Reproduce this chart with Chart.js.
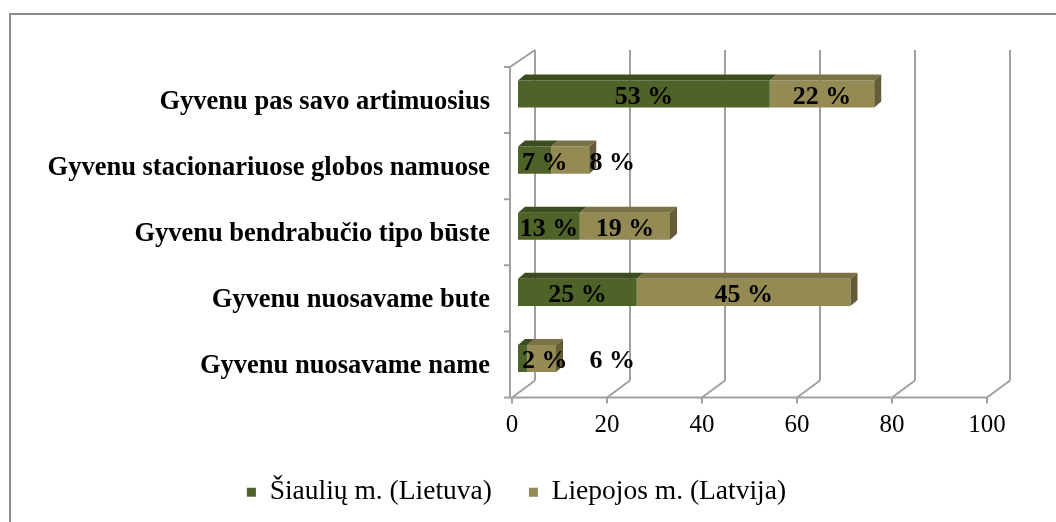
<!DOCTYPE html>
<html>
<head>
<meta charset="utf-8">
<script src="https://cdn.jsdelivr.net/npm/chart.js@4"></script>
<style>
html,body{margin:0;padding:0;background:#fff;}
#wrap{width:1056px;height:522px;position:relative;}
</style>
</head>
<body>
<div id="wrap"><canvas id="c" width="1056" height="522"></canvas></div>
<script>
const categories = [
  "Gyvenu pas savo artimuosius",
  "Gyvenu stacionariuose globos namuose",
  "Gyvenu bendrabučio tipo būste",
  "Gyvenu nuosavame bute",
  "Gyvenu nuosavame name"
];
const seriesNames = ["Šiaulių m. (Lietuva)", "Liepojos m. (Latvija)"];
const siauliai = [53, 7, 13, 25, 2];
const liepoja = [22, 8, 19, 45, 6];
const xTicks = [0, 20, 40, 60, 80, 100];

const SERIF = "'Liberation Serif', 'Times New Roman', serif";
const FRONT = ["#4F6228", "#948A54"];
const TOP = ["#3E4D1F", "#7A7244"];
const SIDE = ["#3A471C", "#635C36"];
const DEPTH = {dx: 23, dy: -17};
const BAR_SHIFT = {dx: 6, dy: -6};
const BAR_DEPTH = {dx: 7, dy: -6};
const GRID = "#a0a0a0";

const frame = {
  id: "frame",
  beforeDraw(chart) {
    const ctx = chart.ctx;
    ctx.save();
    ctx.fillStyle = "#fff";
    ctx.fillRect(0, 0, chart.width, chart.height);
    ctx.strokeStyle = "#8c8c8c";
    ctx.lineWidth = 2;
    ctx.strokeRect(10, 14, 1200, 700);
    ctx.restore();
  }
};

const walls = {
  id: "walls",
  beforeDatasetsDraw(chart) {
    const ctx = chart.ctx, xs = chart.scales.x;
    const a = chart.chartArea;
    const x0 = xs.getPixelForValue(0);
    ctx.save();
    ctx.strokeStyle = GRID;
    ctx.lineWidth = 2;
    ctx.beginPath();
    xTicks.forEach(v => {
      const x = xs.getPixelForValue(v);
      ctx.moveTo(x + DEPTH.dx, a.top + DEPTH.dy);
      ctx.lineTo(x + DEPTH.dx, a.bottom + DEPTH.dy);
      ctx.moveTo(x, a.bottom);
      ctx.lineTo(x + DEPTH.dx, a.bottom + DEPTH.dy);
      ctx.moveTo(x, a.bottom);
      ctx.lineTo(x, a.bottom + 6);
    });
    ctx.moveTo(x0 - 2, a.top);
    ctx.lineTo(x0 + DEPTH.dx, a.top + DEPTH.dy);
    ctx.moveTo(x0 - 2, a.top);
    ctx.lineTo(x0 - 2, a.bottom);
    ctx.moveTo(x0 - 8, a.bottom);
    ctx.lineTo(xs.getPixelForValue(100), a.bottom);
    const n = categories.length;
    for (let i = 0; i <= n; i++) {
      const y = a.top + (a.bottom - a.top) * i / n;
      ctx.moveTo(x0 - 8, y);
      ctx.lineTo(x0 - 2, y);
    }
    ctx.stroke();
    ctx.restore();

    ctx.save();
    ctx.translate(BAR_SHIFT.dx, BAR_SHIFT.dy);
  },
  afterDatasetsDraw(chart) {
    const ctx = chart.ctx;
    const metas = [chart.getDatasetMeta(0), chart.getDatasetMeta(1)];
    metas.forEach((m, di) => {
      m.data.forEach(el => {
        const p = el.getProps(["x", "y", "base", "height"], true);
        const t = p.y - p.height / 2;
        ctx.fillStyle = TOP[di];
        ctx.beginPath();
        ctx.moveTo(p.base, t);
        ctx.lineTo(p.x, t);
        ctx.lineTo(p.x + BAR_DEPTH.dx, t + BAR_DEPTH.dy);
        ctx.lineTo(p.base + BAR_DEPTH.dx, t + BAR_DEPTH.dy);
        ctx.closePath();
        ctx.fill();
      });
    });
    metas[1].data.forEach(el => {
      const p = el.getProps(["x", "y", "base", "height"], true);
      const t = p.y - p.height / 2, b = p.y + p.height / 2;
      ctx.fillStyle = SIDE[1];
      ctx.beginPath();
      ctx.moveTo(p.x, t);
      ctx.lineTo(p.x + BAR_DEPTH.dx, t + BAR_DEPTH.dy);
      ctx.lineTo(p.x + BAR_DEPTH.dx, b + BAR_DEPTH.dy);
      ctx.lineTo(p.x, b);
      ctx.closePath();
      ctx.fill();
    });
    ctx.font = "bold 26px " + SERIF;
    ctx.fillStyle = "#000";
    ctx.textBaseline = "middle";
    ctx.textAlign = "left";
    const n = categories.length;
    for (let i = 0; i < n; i++) {
      let prevRight = -Infinity;
      metas.forEach((m, di) => {
        const el = m.data[i];
        const p = el.getProps(["x", "y", "base", "height"], true);
        const val = chart.data.datasets[di].data[i];
        const txt = val + " %";
        const w = ctx.measureText(txt).width;
        let left = (p.x + p.base) / 2 - w / 2;
        if (di === 0 && left < p.base) left = p.base + 4;
        if (left < prevRight) left = prevRight + 22;
        ctx.fillText(txt, left, p.y + 3);
        prevRight = left + w;
      });
    }
    ctx.restore();
  }
};

new Chart(document.getElementById("c"), {
  type: "bar",
  data: {
    labels: categories,
    datasets: [
      {label: seriesNames[0], data: siauliai, backgroundColor: FRONT[0], borderWidth: 0},
      {label: seriesNames[1], data: liepoja, backgroundColor: FRONT[1], borderWidth: 0}
    ]
  },
  options: {
    indexAxis: "y",
    responsive: false,
    animation: false,
    devicePixelRatio: 1,
    layout: {padding: {top: 67, right: 69, left: 46, bottom: 6}},
    datasets: {bar: {categoryPercentage: 1, barPercentage: 0.41}},
    scales: {
      x: {
        stacked: true,
        min: 0, max: 100,
        afterBuildTicks(s) { s.ticks = xTicks.map(v => ({value: v})); },
        grid: {display: false, drawTicks: false},
        border: {display: false},
        ticks: {
          color: "#000",
          padding: 13,
          maxRotation: 0,
          font: {family: SERIF, size: 25}
        },
        afterFit(s) { s.height = 44; }
      },
      y: {
        stacked: true,
        grid: {display: false, drawTicks: false},
        border: {display: false},
        ticks: {
          color: "#000",
          padding: 22,
          labelOffset: 2,
          font: {family: SERIF, size: 26.5, weight: "bold"}
        },
        afterFit(s) { s.width = 466; }
      }
    },
    plugins: {
      legend: {
        position: "bottom",
        labels: {
          boxWidth: 9, boxHeight: 9,
          padding: 37,
          color: "#000",
          font: {family: SERIF, size: 27.5}
        }
      },
      tooltip: {enabled: false}
    }
  },
  plugins: [frame, walls]
});
</script>
</body>
</html>
